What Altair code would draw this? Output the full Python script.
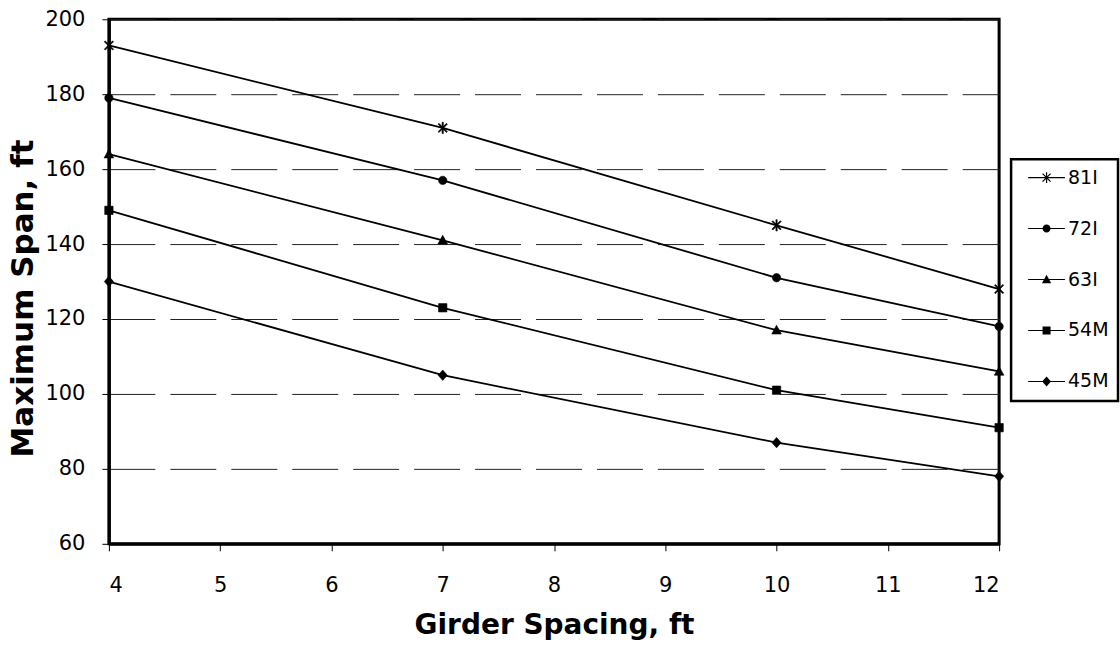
import altair as alt
import pandas as pd

# ---- data ----
spacing = [4, 7, 10, 12]
series = ["81I", "72I", "63I", "54M", "45M"]
span_81I = [193, 171, 145, 128]
span_72I = [179, 157, 131, 118]
span_63I = [164, 141, 117, 106]
span_54M = [149, 123, 101, 91]
span_45M = [130, 105, 87, 78]
x_ticks = [4, 5, 6, 7, 8, 9, 10, 11, 12]
y_ticks = [60, 80, 100, 120, 140, 160, 180, 200]

# marker shapes as filled unit paths (all drawn clockwise)
ASTERISK = ("M-0.15,-1.35H0.15V1.35H-0.15Z "
            "M-0.894,-1.106L1.106,0.894L0.894,1.106L-1.106,-0.894Z "
            "M-1.106,0.894L0.894,-1.106L1.106,-0.894L-0.894,1.106Z")
CIRCLE = "M-1,0A1,1,0,1,1,1,0A1,1,0,1,1,-1,0Z"
TRIANGLE = "M0,-1.2L1.15,0.9L-1.15,0.9Z"
SQUARE = "M-1,-1H1V1H-1Z"
DIAMOND = "M0,-1.25L1.1,0L0,1.25L-1.1,0Z"
marker_paths = [ASTERISK, CIRCLE, TRIANGLE, SQUARE, DIAMOND]
# legend symbols: the same markers with a short line through them
LEG_LINE = " M-4.6,-0.13H4.6V0.13H-4.6Z"
legend_paths = [p + LEG_LINE for p in marker_paths]

rows = []
for name, vals in zip(series, [span_81I, span_72I, span_63I, span_54M, span_45M]):
    for xv, yv in zip(spacing, vals):
        rows.append({"series": name, "spacing": xv, "span": yv})
df = pd.DataFrame(rows)

FONT = "DejaVu Sans"

x = alt.X(
    "spacing:Q",
    scale=alt.Scale(domain=[4, 12], nice=False, zero=False),
    axis=alt.Axis(
        values=x_ticks, title="Girder Spacing, ft", grid=False,
        labelFont=FONT, labelFontSize=21, labelPadding=24,
        titlePadding=16, tickSize=7, titleFontSize=28,
    ),
)
y = alt.Y(
    "span:Q",
    scale=alt.Scale(domain=[60, 200], nice=False, zero=False),
    axis=alt.Axis(
        values=y_ticks, title="Maximum Span, ft", grid=True,
        gridDash=[46, 15], gridColor="#222222", gridWidth=1, gridOpacity=1,
        labelFont=FONT, labelFontSize=21, labelPadding=17,
        titlePadding=5, tickSize=7, titleFontSize=31, titleY=279,
    ),
)

lines = alt.Chart(df).mark_line(color="black", strokeWidth=1.8).encode(
    x=x, y=y, detail="series:N"
)

points = alt.Chart(df).mark_point(
    filled=True, fill="black", stroke="black", strokeWidth=0.6, opacity=1, size=70
).encode(
    x=x,
    y=y,
    shape=alt.Shape(
        "series:N",
        scale=alt.Scale(domain=series, range=marker_paths),
        legend=None,
    ),
)

# invisible layer that only supplies the legend symbols
legend_layer = alt.Chart(df).mark_point(
    filled=True, fill="black", opacity=0, size=64
).encode(
    x=x,
    y=y,
    shape=alt.Shape(
        "series:N",
        scale=alt.Scale(domain=series, range=legend_paths),
        legend=alt.Legend(
            title=None,
            orient="none",
            legendX=903,
            legendY=140,
            direction="vertical",
            strokeColor="black",
            padding=9,
            labelFont=FONT,
            labelFontSize=19,
            labelColor="black",
            symbolSize=64,
            symbolOpacity=1,
            symbolFillColor="black",
            symbolStrokeColor="black",
            symbolStrokeWidth=0.6,
            symbolOffset=17,
            labelOffset=12,
            rowPadding=31,
        ),
    ),
)

chart = (
    alt.layer(lines, points, legend_layer)
    .resolve_scale(shape="independent")
    .properties(width=891, height=525, padding={"left": 7, "top": 8, "right": 0, "bottom": 4})
    .configure(background="white")
    .configure_view(stroke="black", strokeWidth=3)
    .configure_legend(strokeWidth=2.5)
    .configure_axis(
        labelFont=FONT, labelFontSize=21, labelColor="black",
        titleFont=FONT, titleFontWeight="bold", titleColor="black",
        domainColor="black", domainWidth=3, tickColor="black", tickWidth=1,
    )
)

chart.save("out.html", embed_options={"renderer": "svg", "actions": False})
